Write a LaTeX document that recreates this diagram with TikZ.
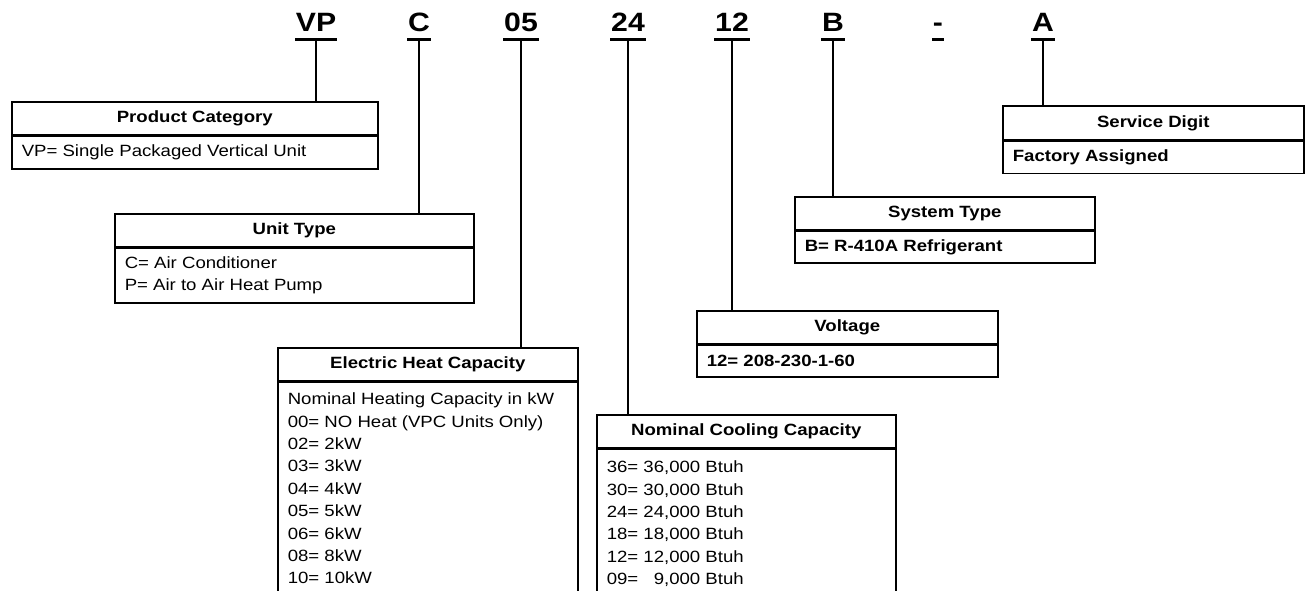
\documentclass[tikz,border=0pt]{standalone}
\usepackage{fontspec}
\setmainfont{Liberation Sans}[FakeStretch=1.14]
\usepackage{tikz}

\begin{document}
\begin{tikzpicture}[x=1pt,y=-1pt,line width=1.6pt,
	code/.style={font=\fontsize{26.5}{30}\selectfont\bfseries,inner sep=0pt,anchor=base},
	uline/.style={line width=3pt},
	head/.style={draw,anchor=north west,inner sep=0pt,minimum height=32.5pt,text height=12pt,text depth=3.5pt,font=\fontsize{16.3}{22.4}\selectfont\bfseries},
	body/.style={draw,anchor=north west,inner sep=0pt},
	entry/.style={inner sep=0pt,align=left,font=\fontsize{16.3}{22.4}\selectfont},
	bentry/.style={entry,font=\fontsize{16.3}{22.4}\selectfont\bfseries}]
		\useasboundingbox (0,0) rectangle (1308,590);
		% model number digits
		\node[code] (cVP) at (316,31) {VP};
		\node[code] (cC) at (419,31) {C};
		\node[code] (cHeat) at (521,31) {05};
		\node[code] (cCool) at (628,31) {24};
		\node[code] (cVolt) at (732,31) {12};
		\node[code] (cB) at (833,31) {B};
		\node[code] (cDash) at (938,31) {-};
		\node[code] (cA) at (1043,31) {A};
		\foreach \c in {cVP,cC,cHeat,cCool,cVolt,cB,cDash,cA}
			\draw[uline] ([yshift=-8pt]\c.base west) -- ([yshift=-8pt]\c.base east);
		% Product Category
		\node[head,minimum width=366pt] (pcHead) at (11,101) {Product Category};
		\node[body,minimum width=366pt,minimum height=33pt] (pcBody) at (pcHead.south west) {};
		\node[entry,anchor=west] (pcText) at ([xshift=10pt]pcBody.west) {VP= Single Packaged Vertical Unit};
		% Unit Type
		\node[head,minimum width=359pt] (utHead) at (114,213) {Unit Type};
		\node[body,minimum width=359pt,minimum height=55pt] (utBody) at (utHead.south west) {};
		\node[entry,anchor=west] (utText) at ([xshift=10pt]utBody.west) {C= Air Conditioner\\P= Air to Air Heat Pump};
		% Electric Heat Capacity (runs off the page)
		\node[head,minimum width=300pt] (ehHead) at (277,347) {Electric Heat Capacity};
		\node[body,minimum width=300pt,minimum height=260pt] (ehBody) at (ehHead.south west) {};
		\node[entry,anchor=north west] (ehText) at ([xshift=10pt,yshift=-11pt]ehBody.north west) {Nominal Heating Capacity in kW\\00= NO Heat (VPC Units Only)\\02= 2kW\\03= 3kW\\04= 4kW\\05= 5kW\\06= 6kW\\08= 8kW\\10= 10kW};
		% Nominal Cooling Capacity (runs off the page)
		\node[head,minimum width=299pt] (ncHead) at (596,414) {Nominal Cooling Capacity};
		\node[body,minimum width=299pt,minimum height=200pt] (ncBody) at (ncHead.south west) {};
		\node[entry,anchor=north west] (ncText) at ([xshift=10pt,yshift=-12pt]ncBody.north west) {36= 36,000 Btuh\\30= 30,000 Btuh\\24= 24,000 Btuh\\18= 18,000 Btuh\\12= 12,000 Btuh\\09= \hphantom{0}9,000 Btuh};
		% Voltage
		\node[head,minimum width=301pt] (vHead) at (696,310) {Voltage};
		\node[body,minimum width=301pt,minimum height=32pt] (vBody) at (vHead.south west) {};
		\node[bentry,anchor=west] (vText) at ([xshift=10pt]vBody.west) {12= 208-230-1-60};
		% System Type
		\node[head,minimum width=300pt] (stHead) at (794,196) {System Type};
		\node[body,minimum width=300pt,minimum height=32pt] (stBody) at (stHead.south west) {};
		\node[bentry,anchor=west] (stText) at ([xshift=10pt]stBody.west) {B= R-410A Refrigerant};
		% Service Digit
		\node[head,minimum width=301pt,minimum height=34pt] (sdHead) at (1002,105) {Service Digit};
		\node[body,minimum width=301pt,minimum height=32pt] (sdBody) at (sdHead.south west) {};
		\node[bentry,anchor=west] (sdText) at ([xshift=10pt]sdBody.west) {Factory Assigned};
		% leader lines
		\draw ([yshift=-8pt]cVP.base) -- (cVP.base |- pcHead.north);
		\draw ([yshift=-8pt]cC.base) -- (cC.base |- utHead.north);
		\draw ([yshift=-8pt]cHeat.base) -- (cHeat.base |- ehHead.north);
		\draw ([yshift=-8pt]cCool.base) -- (cCool.base |- ncHead.north);
		\draw ([yshift=-8pt]cVolt.base) -- (cVolt.base |- vHead.north);
		\draw ([yshift=-8pt]cB.base) -- (cB.base |- stHead.north);
		\draw ([yshift=-8pt]cA.base) -- (cA.base |- sdHead.north);
\end{tikzpicture}
\end{document}
